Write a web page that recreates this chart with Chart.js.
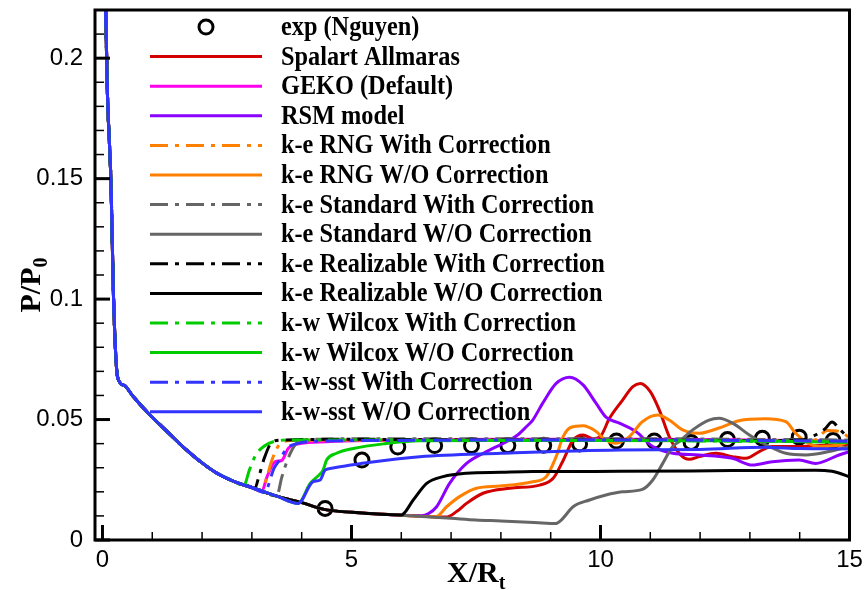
<!DOCTYPE html>
<html>
<head>
<meta charset="utf-8">
<script src="https://cdn.jsdelivr.net/npm/chart.js@4.4.0/dist/chart.umd.min.js"></script>
<style>
  html, body { margin: 0; padding: 0; background: #fff; }
</style>
</head>
<body>
<canvas id="chart" width="865" height="590"></canvas>
<script>
// tick labels
const xTicks = [0, 5, 10, 15];
const yTicks = [0, 0.05, 0.1, 0.15, 0.2];

// experiment (Nguyen)
const expX = [4.47, 5.21, 5.93, 6.67, 7.41, 8.14, 8.86, 9.58, 10.32, 11.08, 11.82, 12.55, 13.25, 13.99, 14.67];
const expY = [0.0131, 0.0332, 0.0386, 0.0392, 0.0392, 0.0392, 0.0393, 0.0399, 0.0411, 0.0411, 0.0405, 0.0417, 0.0422, 0.0427, 0.0413];

// shared wall pressure curve, all models follow it before separation
const baseX = [0.05, 0.1, 0.17, 0.22, 0.28, 0.33, 0.45, 0.6, 0.95, 1.3, 1.6, 2.0, 2.3, 2.7, 3.0, 3.5, 4.0, 4.45, 5.0, 6.0, 7.0, 7.5, 8.0, 9.0];
const baseY = [0.235, 0.185, 0.149, 0.102, 0.072, 0.066, 0.064, 0.060, 0.052, 0.045, 0.039, 0.032, 0.0277, 0.0238, 0.0218, 0.0182, 0.0155, 0.0127, 0.0115, 0.0103, 0.0090, 0.0083, 0.0079, 0.0069];

// Spalart Allmaras
const saX = [6.9, 7.11, 7.31, 7.64, 8.18, 8.78, 9.05, 9.25, 9.45, 9.65, 9.85, 10.0, 10.18, 10.44, 10.65, 10.8, 11.0, 11.18, 11.38, 11.6, 11.78, 11.98, 12.32, 12.65, 12.92, 13.19, 13.45, 13.99, 14.65, 15];
const saY = [0.0095, 0.0118, 0.0152, 0.0194, 0.0215, 0.0228, 0.0256, 0.033, 0.0415, 0.0436, 0.042, 0.043, 0.0505, 0.058, 0.0637, 0.065, 0.0616, 0.054, 0.0429, 0.0355, 0.0335, 0.0346, 0.036, 0.0346, 0.0339, 0.0367, 0.0388, 0.0388, 0.0394, 0.0394];

// GEKO (Default)
const gekoX = [3.2, 3.3, 3.47, 3.6, 3.73, 3.97, 4.5, 5.5, 8, 11, 13, 15];
const gekoY = [0.0202, 0.026, 0.0325, 0.033, 0.038, 0.040, 0.0408, 0.0413, 0.0418, 0.0418, 0.0415, 0.0410];

// RSM model
const rsmX = [6.4, 6.55, 6.71, 6.97, 7.31, 7.71, 8.18, 8.35, 8.51, 8.64, 8.84, 9.11, 9.38, 9.65, 9.91, 10.11, 10.38, 10.71, 11.05, 11.45, 11.98, 12.65, 13.05, 13.45, 13.99, 14.32, 14.79, 15];
const rsmY = [0.0101, 0.011, 0.0138, 0.0235, 0.0318, 0.0367, 0.0415, 0.0438, 0.047, 0.0498, 0.0568, 0.065, 0.0676, 0.0644, 0.0568, 0.0510, 0.0485, 0.045, 0.0388, 0.036, 0.0353, 0.0339, 0.0311, 0.0325, 0.0332, 0.0318, 0.0353, 0.0367];

// k-e RNG
const rngCX = [3.2, 3.3, 3.4, 3.57, 3.8, 5, 8, 11, 13, 14.3, 14.55, 14.8, 15];
const rngCY = [0.0202, 0.026, 0.033, 0.040, 0.0413, 0.0415, 0.0415, 0.0413, 0.0413, 0.0415, 0.0455, 0.045, 0.0425];
const rngX = [6.7, 6.91, 7.17, 7.51, 7.98, 8.64, 8.91, 9.11, 9.25, 9.4, 9.65, 9.9, 10.1, 10.3, 10.58, 10.84, 11.15, 11.38, 11.65, 11.98, 12.38, 12.78, 13.3, 13.72, 13.92, 14.12, 14.39, 14.79, 15];
const rngY = [0.0097, 0.0138, 0.018, 0.0215, 0.0224, 0.0242, 0.0263, 0.0346, 0.0429, 0.0467, 0.0474, 0.0452, 0.0415, 0.0402, 0.0429, 0.0491, 0.0519, 0.0498, 0.0457, 0.0443, 0.0465, 0.0495, 0.0503, 0.0491, 0.0443, 0.0408, 0.0388, 0.0394, 0.0408];

// k-e Standard
const stdCX = [3.5, 3.6, 3.73, 3.85, 4.0, 5, 8, 11, 13, 15];
const stdCY = [0.0183, 0.026, 0.034, 0.039, 0.0415, 0.042, 0.042, 0.042, 0.0418, 0.0415];
const stdX = [9.1, 9.2, 9.45, 9.78, 10.11, 10.44, 10.84, 11.05, 11.25, 11.45, 11.58, 11.85, 12.18, 12.38, 12.65, 12.99, 13.39, 13.72, 14.12, 14.59, 15];
const stdY = [0.0068, 0.0080, 0.0138, 0.0166, 0.0187, 0.020, 0.021, 0.0249, 0.0318, 0.0388, 0.0408, 0.0457, 0.0498, 0.0505, 0.0485, 0.0436, 0.0388, 0.036, 0.0353, 0.0367, 0.0388];

// k-e Realizable
const rlzCX = [3.05, 3.15, 3.25, 3.4, 3.6, 5, 8, 11, 13, 14.0, 14.5, 14.65, 14.8, 15];
const rlzCY = [0.0212, 0.027, 0.034, 0.0405, 0.0415, 0.0418, 0.0415, 0.0415, 0.0413, 0.0415, 0.046, 0.049, 0.046, 0.042];
const rlzX = [6.0, 6.24, 6.51, 6.84, 7.31, 8.0, 8.64, 10.38, 12.65, 14.32, 14.65, 14.8, 15];
const rlzY = [0.0104, 0.0166, 0.0235, 0.0263, 0.0277, 0.0281, 0.0284, 0.0285, 0.0288, 0.029, 0.0285, 0.0277, 0.0262];

// k-w Wilcox
const wilCX = [2.83, 2.95, 3.07, 3.25, 3.47, 3.8, 5, 8, 11, 13, 15];
const wilCY = [0.0222, 0.029, 0.035, 0.039, 0.041, 0.0415, 0.0415, 0.0413, 0.0413, 0.041, 0.041];
const wilX = [3.93, 4.17, 4.35, 4.43, 4.5, 4.7, 5.04, 5.64, 6.37, 8, 10, 12, 13.5, 15];
const wilY = [0.0152, 0.0235, 0.027, 0.029, 0.0332, 0.036, 0.038, 0.0399, 0.0412, 0.0413, 0.0413, 0.0412, 0.041, 0.0405];

// k-w-sst
const sstCX = [3.25, 3.45, 3.55, 3.7, 3.9, 4.3, 5.5, 8, 11, 13, 15];
const sstCY = [0.0198, 0.030, 0.033, 0.038, 0.040, 0.041, 0.0413, 0.0415, 0.0415, 0.0413, 0.041];
const sstX = [3.93, 4.23, 4.37, 4.47, 4.6, 4.77, 5.3, 6.37, 8, 10.38, 12, 13.3, 14, 15];
const sstY = [0.0152, 0.0242, 0.0249, 0.029, 0.0298, 0.0304, 0.0321, 0.0346, 0.0360, 0.0374, 0.0376, 0.0385, 0.0380, 0.0378];

const dashDot = [18, 7, 4, 7];

function withBase(x0, xs, ys) {
  const pts = [];
  baseX.forEach((x, i) => { if (x < x0) pts.push({ x: x, y: baseY[i] }); });
  xs.forEach((x, i) => pts.push({ x: x, y: ys[i] }));
  return pts;
}

function curve(label, color, xs, ys, dash) {
  return {
    label: label,
    data: withBase(xs[0], xs, ys),
    showLine: true,
    borderColor: color,
    backgroundColor: color,
    borderWidth: 3,
    borderDash: dash ? dashDot : [],
    pointRadius: 0,
    cubicInterpolationMode: 'monotone'
  };
}

const datasets = [
  {
    label: 'exp (Nguyen)',
    data: expX.map((x, i) => ({ x: x, y: expY[i] })),
    showLine: false,
    pointRadius: 7,
    pointBorderWidth: 3,
    borderColor: '#000',
    backgroundColor: 'rgba(0,0,0,0)'
  },
  curve('Spalart Allmaras', '#d20000', saX, saY, false),
  curve('GEKO (Default)', '#ff00ee', gekoX, gekoY, false),
  curve('RSM model', '#8c00ff', rsmX, rsmY, false),
  curve('k-e RNG With Correction', '#ff8000', rngCX, rngCY, true),
  curve('k-e RNG W/O Correction', '#ff8000', rngX, rngY, false),
  curve('k-e Standard With Correction', '#666666', stdCX, stdCY, true),
  curve('k-e Standard W/O Correction', '#666666', stdX, stdY, false),
  curve('k-e Realizable With Correction', '#000000', rlzCX, rlzCY, true),
  curve('k-e Realizable W/O Correction', '#000000', rlzX, rlzY, false),
  curve('k-w Wilcox With Correction', '#00cc00', wilCX, wilCY, true),
  curve('k-w Wilcox W/O Correction', '#00cc00', wilX, wilY, false),
  curve('k-w-sst With Correction', '#3333ff', sstCX, sstCY, true),
  curve('k-w-sst W/O Correction', '#3333ff', sstX, sstY, false)
];
// later entries on top, experiment underneath
datasets.forEach((ds, i) => { ds.order = 100 - i; });

// frame, inward ticks and axis titles with subscripts
const framePlugin = {
  id: 'frame',
  afterDraw(chart) {
    const ctx = chart.ctx;
    const a = chart.chartArea;
    const xs = chart.scales.x, ys = chart.scales.y;
    ctx.save();
    ctx.strokeStyle = '#000';
    for (let v = 0; v <= 15; v++) {
      const px = xs.getPixelForValue(v);
      const major = v % 5 === 0;
      ctx.lineWidth = major ? 3 : 1.5;
      ctx.beginPath();
      ctx.moveTo(px, a.bottom);
      ctx.lineTo(px, a.bottom - (major ? 15 : 8));
      ctx.stroke();
    }
    for (let k = 0; k <= 22; k++) {
      const py = ys.getPixelForValue(k / 100);
      const major = k % 5 === 0;
      ctx.lineWidth = major ? 3 : 1.5;
      ctx.beginPath();
      ctx.moveTo(a.left, py);
      ctx.lineTo(a.left + (major ? 15 : 9), py);
      ctx.stroke();
    }
    ctx.lineWidth = 3;
    ctx.strokeRect(a.left, a.top, a.right - a.left, a.bottom - a.top);

    ctx.fillStyle = '#000';
    ctx.textBaseline = 'alphabetic';
    ctx.textAlign = 'left';
    // X/Rt
    const big = 'bold 30px "Liberation Serif", "Times New Roman", serif';
    const small = 'bold 20px "Liberation Serif", "Times New Roman", serif';
    ctx.font = big;
    const w1 = ctx.measureText('X/R').width;
    ctx.font = small;
    const w2 = ctx.measureText('t').width;
    let x0 = (a.left + a.right) / 2 - (w1 + w2) / 2 + 4;
    ctx.font = big;
    ctx.fillText('X/R', x0, 582);
    ctx.font = small;
    ctx.fillText('t', x0 + w1, 589);
    // P/P0
    ctx.translate(40, (a.top + a.bottom) / 2 + 10);
    ctx.rotate(-Math.PI / 2);
    ctx.font = big;
    const w3 = ctx.measureText('P/P').width;
    ctx.font = small;
    const w4 = ctx.measureText('0').width;
    x0 = -(w3 + w4) / 2;
    ctx.font = big;
    ctx.fillText('P/P', x0, 0);
    ctx.font = small;
    ctx.fillText('0', x0 + w3, 7);
    ctx.restore();
  }
};

const legendPlugin = {
  id: 'legendList',
  afterDraw(chart) {
    const ctx = chart.ctx;
    ctx.save();
    ctx.font = 'bold 27px "Liberation Serif", "Times New Roman", serif';
    ctx.textBaseline = 'middle';
    ctx.textAlign = 'left';
    chart.data.datasets.forEach((ds, i) => {
      const y = 27 + i * 29.6;
      ctx.strokeStyle = ds.borderColor;
      if (ds.showLine === false) {
        ctx.lineWidth = 3;
        ctx.setLineDash([]);
        ctx.beginPath();
        ctx.arc(206, y, 7, 0, Math.PI * 2);
        ctx.stroke();
      } else {
        ctx.lineWidth = 3;
        ctx.setLineDash(ds.borderDash || []);
        ctx.beginPath();
        ctx.moveTo(150, y);
        ctx.lineTo(262, y);
        ctx.stroke();
      }
      ctx.setLineDash([]);
      ctx.fillStyle = '#000';
      ctx.save();
      ctx.translate(281, y + 1);
      ctx.scale(0.9, 1);
      ctx.fillText(ds.label, 0, 0);
      ctx.restore();
    });
    ctx.restore();
  }
};

new Chart(document.getElementById('chart'), {
  type: 'scatter',
  data: { datasets: datasets },
  plugins: [framePlugin, legendPlugin],
  options: {
    responsive: false,
    animation: false,
    layout: { padding: { top: 10, right: 15.5, left: 0, bottom: 0 } },
    plugins: { legend: { display: false }, tooltip: { enabled: false } },
    scales: {
      x: {
        type: 'linear',
        min: -0.15,
        max: 15,
        grid: { display: false, drawTicks: false },
        border: { display: false },
        afterBuildTicks: (s) => { s.ticks = xTicks.map((v) => ({ value: v })); },
        afterFit: (s) => { s.height = 50; s.paddingLeft = 0; s.paddingRight = 0; },
        ticks: {
          padding: 6,
          color: '#000',
          font: { family: '"Liberation Sans", Arial, sans-serif', size: 24 },
          callback: (v) => String(v)
        }
      },
      y: {
        type: 'linear',
        min: 0,
        max: 0.22,
        grid: { display: false, drawTicks: false },
        border: { display: false },
        afterBuildTicks: (s) => { s.ticks = yTicks.map((v) => ({ value: v })); },
        afterFit: (s) => { s.width = 95; s.paddingTop = 0; s.paddingBottom = 0; },
        ticks: {
          padding: 12,
          color: '#000',
          font: { family: '"Liberation Sans", Arial, sans-serif', size: 24 },
          callback: (v) => String(v)
        }
      }
    }
  }
});
</script>
</body>
</html>
